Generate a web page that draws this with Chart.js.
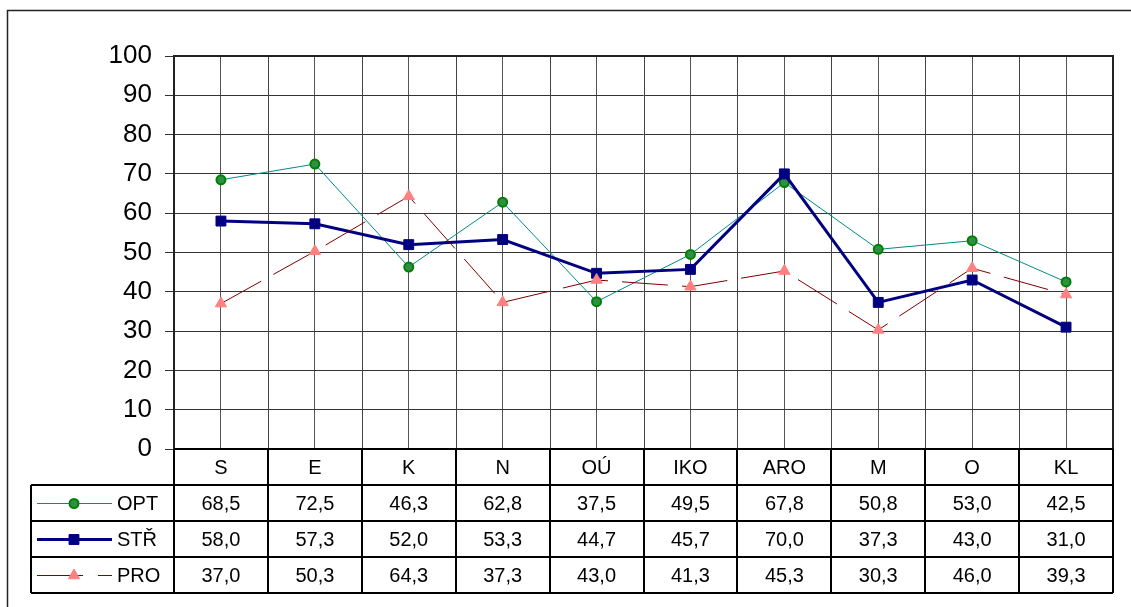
<!DOCTYPE html>
<html><head><meta charset="utf-8">
<script src="https://cdn.jsdelivr.net/npm/chart.js@4/dist/chart.umd.min.js"></script>
<style>html,body{margin:0;padding:0;background:#fff;overflow:hidden}</style>
</head><body>
<canvas id="c" width="1131" height="607"></canvas>
<script>
const categories = ['S','E','K','N','OÚ','IKO','ARO','M','O','KL'];
const seriesNames = ['OPT','STŘ','PRO'];
const optValues = [68.5,72.5,46.3,62.8,37.5,49.5,67.8,50.8,53.0,42.5];
const strValues = [58.0,57.3,52.0,53.3,44.7,45.7,70.0,37.3,43.0,31.0];
const proValues = [37.0,50.3,64.3,37.3,43.0,41.3,45.3,30.3,46.0,39.3];
const yMin = 0, yMax = 100, yStep = 10;

const FONT = '"Liberation Sans", Arial, sans-serif';
const styles = [
  {line:'#008b8b', lw:1, dash:[], pt:'circle', r:4.5, fill:'#2f8f45', pb:'#008000', pbw:2},
  {line:'#000080', lw:3, dash:[], pt:'rect', r:7, fill:'#000080', pb:'#000080', pbw:1},
  {line:'#800000', lw:1, dash:[46,14], pt:'triangle', r:6.5, fill:'#ff8080', pb:'#ff8080', pbw:1}
];
const allValues = [optValues, strValues, proValues];

function fmt(v){ return v.toFixed(1).replace('.', ','); }

function drawMarker(ctx, s, x, y){
  ctx.save();
  ctx.fillStyle = s.fill; ctx.strokeStyle = s.pb; ctx.lineWidth = s.pbw; ctx.setLineDash([]);
  ctx.beginPath();
  if (s.pt === 'circle') { ctx.arc(x, y, s.r, 0, Math.PI*2); }
  else if (s.pt === 'rect') { const h = s.r*Math.SQRT1_2; ctx.rect(x-h, y-h, 2*h, 2*h); }
  else { const r = s.r; ctx.moveTo(x, y - r); ctx.lineTo(x + r*Math.sin(Math.PI/3), y + r/2); ctx.lineTo(x - r*Math.sin(Math.PI/3), y + r/2); ctx.closePath(); }
  ctx.fill(); ctx.stroke();
  ctx.restore();
}

const tablePlugin = {
  id: 'tbl',
  beforeDraw(chart){
    const ctx = chart.ctx;
    ctx.save();
    ctx.fillStyle = '#fff'; ctx.fillRect(0,0,chart.width,chart.height);
    ctx.strokeStyle = '#222'; ctx.lineWidth = 1.5;
    ctx.beginPath(); ctx.moveTo(7.5, chart.height); ctx.lineTo(7.5, 10.5); ctx.lineTo(chart.width, 10.5); ctx.stroke();
    ctx.restore();
  },
  beforeDatasetsDraw(chart){
    const {ctx, chartArea:a, scales:{x}} = chart;
    const w = (x.right - x.left)/categories.length;
    ctx.save(); ctx.strokeStyle = '#444'; ctx.lineWidth = 1;
    for (let i=1;i<categories.length;i++){
      const px = Math.round(x.left + i*w) + 0.5;
      ctx.beginPath(); ctx.moveTo(px, a.top); ctx.lineTo(px, a.bottom); ctx.stroke();
    }
    ctx.strokeStyle = '#222'; ctx.lineWidth = 2;
    ctx.strokeRect(a.left, a.top, a.right - a.left, a.bottom - a.top);
    ctx.restore();
  },
  afterDraw(chart){
    const {ctx, chartArea:a, scales:{x}} = chart;
    const w = (x.right - x.left)/categories.length;
    const rowH = 36;
    const legL = 31;
    const top = a.bottom;
    const hdrB = top + rowH;
    const bot = hdrB + rowH*seriesNames.length;
    ctx.save();
    ctx.strokeStyle = '#000'; ctx.lineWidth = 2;
    ctx.beginPath();
    ctx.moveTo(a.left, top); ctx.lineTo(a.right, top);
    for (let r=0;r<=seriesNames.length;r++){ const y = hdrB + r*rowH; ctx.moveTo(legL, y); ctx.lineTo(a.right, y); }
    ctx.moveTo(legL, hdrB); ctx.lineTo(legL, bot);
    for (let i=0;i<=categories.length;i++){ const px = Math.round(x.left + i*w); ctx.moveTo(px, top); ctx.lineTo(px, bot); }
    ctx.stroke();
    ctx.fillStyle = '#000'; ctx.font = '20px ' + FONT; ctx.textAlign = 'center'; ctx.textBaseline = 'middle';
    for (let r=0;r<seriesNames.length;r++){
      const yc = hdrB + r*rowH + rowH/2 + 1;
      for (let i=0;i<categories.length;i++){
        ctx.fillText(fmt(allValues[r][i]), x.getPixelForValue(i), yc);
      }
      const s = styles[r];
      ctx.save();
      ctx.strokeStyle = s.line; ctx.lineWidth = s.lw; ctx.setLineDash(s.dash.length ? [46,15] : []);
      ctx.beginPath(); ctx.moveTo(37, Math.round(yc)-0.5); ctx.lineTo(112, Math.round(yc)-0.5); ctx.stroke();
      ctx.restore();
      drawMarker(ctx, s, 74, Math.round(yc) - 0.5);
      ctx.textAlign = 'left'; ctx.fillStyle = '#000';
      ctx.fillText(seriesNames[r], 117, yc);
      ctx.textAlign = 'center';
    }
    ctx.restore();
  }
};

const datasets = seriesNames.map((name, k) => ({
  label: name,
  data: allValues[k],
  borderColor: styles[k].line,
  borderWidth: styles[k].lw,
  borderDash: styles[k].dash,
  pointStyle: styles[k].pt,
  pointRadius: styles[k].r,
  pointBackgroundColor: styles[k].fill,
  pointBorderColor: styles[k].pb,
  pointBorderWidth: styles[k].pbw,
  tension: 0,
  fill: false,
  order: 3 - k
}));

new Chart(document.getElementById('c'), {
  type: 'line',
  data: { labels: categories, datasets },
  options: {
    responsive: false,
    animation: false,
    layout: { padding: { top: 56, right: 18, bottom: 122, left: 0 } },
    plugins: { legend: { display: false }, tooltip: { enabled: false } },
    scales: {
      x: {
        type: 'category',
        offset: true,
        grid: { offset: false, color: '#555', lineWidth: 1, drawTicks: false },
        border: { display: false },
        ticks: { color: '#000', font: { family: FONT, size: 20 }, padding: 7, maxRotation: 0, autoSkip: false },
        afterFit(s){ s.height = 36; }
      },
      y: {
        min: yMin, max: yMax,
        grid: { color: '#333', lineWidth: 1, tickLength: 9, drawTicks: true },
        border: { display: false },
        ticks: { stepSize: yStep, color: '#000', font: { family: FONT, size: 26 }, padding: 13 },
        afterFit(s){ s.width = 174; }
      }
    }
  },
  plugins: [tablePlugin]
});
</script>
</body></html>
